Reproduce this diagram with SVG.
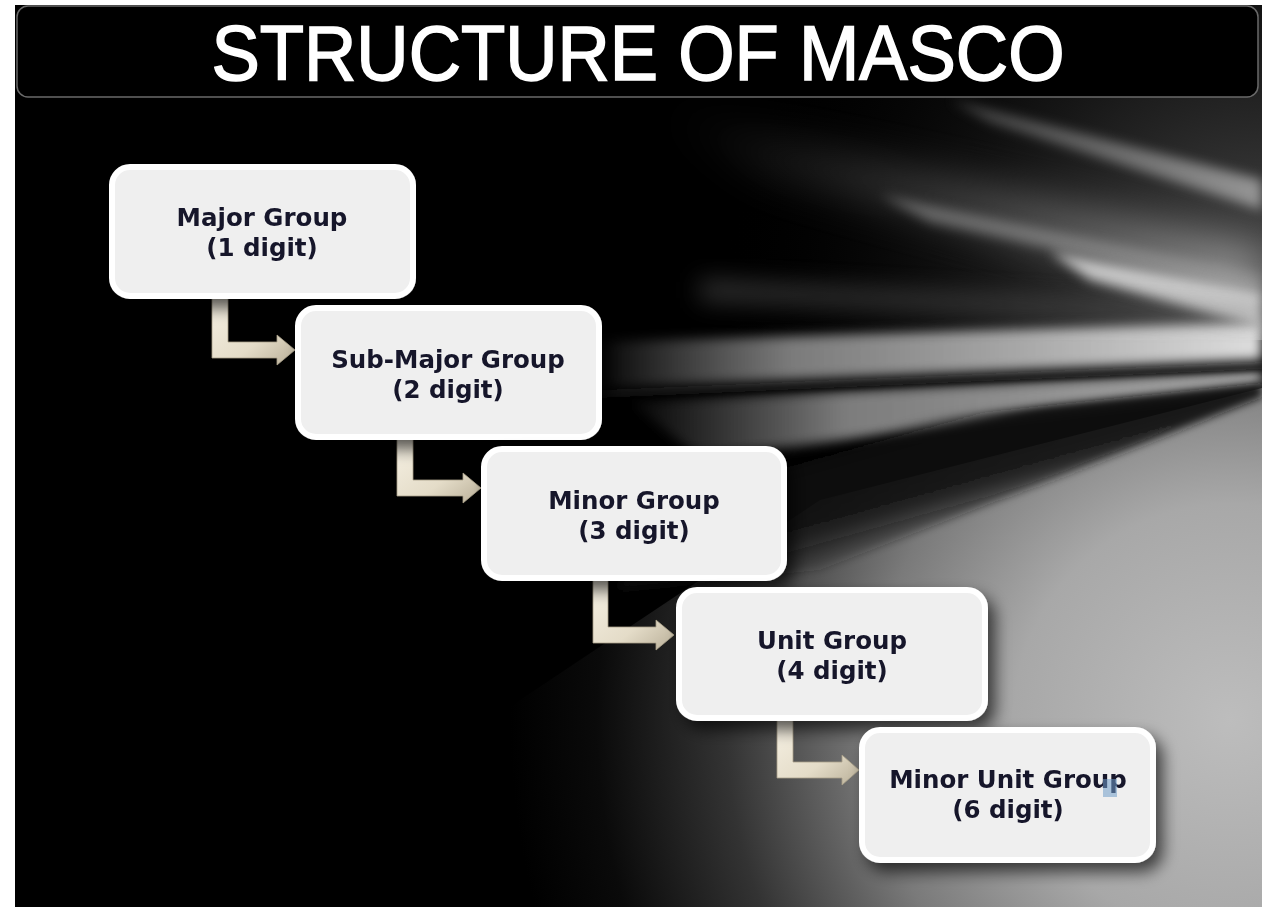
<svg xmlns="http://www.w3.org/2000/svg" width="1281" height="913" viewBox="0 0 1281 913">
<style>
.lbl{font-family:"DejaVu Sans","Liberation Sans",sans-serif;font-weight:bold;font-size:24.5px;fill:#14142a;text-anchor:middle}
.box{fill:#efefef;stroke:#ffffff;stroke-width:6}
.arr{fill:url(#arrG);stroke:#a89f88;stroke-width:0.8}
</style>
<defs>
<filter id="b20" x="-50%" y="-50%" width="200%" height="200%"><feGaussianBlur stdDeviation="20"/></filter>
<filter id="b12" x="-50%" y="-50%" width="200%" height="200%"><feGaussianBlur stdDeviation="12"/></filter>
<filter id="b6" x="-50%" y="-50%" width="200%" height="200%"><feGaussianBlur stdDeviation="6"/></filter>
<filter id="b4" x="-50%" y="-50%" width="200%" height="200%"><feGaussianBlur stdDeviation="4"/></filter>
<filter id="b3" x="-50%" y="-50%" width="200%" height="200%"><feGaussianBlur stdDeviation="3"/></filter>
<filter id="shadow" x="-20%" y="-20%" width="150%" height="160%"><feGaussianBlur in="SourceAlpha" stdDeviation="8"/><feOffset dx="7" dy="9"/><feComponentTransfer><feFuncA type="linear" slope="0.65"/></feComponentTransfer><feMerge><feMergeNode/><feMergeNode in="SourceGraphic"/></feMerge></filter>
<linearGradient id="arrG" x1="0" y1="0" x2="1" y2="1"><stop offset="0" stop-color="#f6f1e4"/><stop offset="0.6" stop-color="#e4dcc8"/><stop offset="1" stop-color="#b9af98"/></linearGradient>
<radialGradient id="floorG" gradientUnits="userSpaceOnUse" cx="1230" cy="720" r="720"><stop offset="0" stop-color="#bdbdbd"/><stop offset="0.3" stop-color="#a8a8a8"/><stop offset="0.5" stop-color="#7a7a7a"/><stop offset="0.7" stop-color="#333333"/><stop offset="0.88" stop-color="#0a0a0a"/><stop offset="1" stop-color="#000000"/></radialGradient>
<radialGradient id="fanG" gradientUnits="userSpaceOnUse" cx="1262" cy="310" r="540"><stop offset="0" stop-color="#6a6a6a" stop-opacity="0.8"/><stop offset="0.45" stop-color="#3a3a3a" stop-opacity="0.5"/><stop offset="1" stop-color="#000" stop-opacity="0"/></radialGradient>
<linearGradient id="bandG" gradientUnits="userSpaceOnUse" x1="590" y1="0" x2="1262" y2="0"><stop offset="0" stop-color="#aaaaaa" stop-opacity="0"/><stop offset="0.3" stop-color="#9a9a9a" stop-opacity="0.8"/><stop offset="1" stop-color="#dedede" stop-opacity="1"/></linearGradient>
<linearGradient id="band2G" gradientUnits="userSpaceOnUse" x1="620" y1="0" x2="1262" y2="0"><stop offset="0" stop-color="#777" stop-opacity="0"/><stop offset="0.35" stop-color="#8a8a8a" stop-opacity="0.9"/><stop offset="1" stop-color="#aaaaaa" stop-opacity="1"/></linearGradient>
<linearGradient id="upG" gradientUnits="userSpaceOnUse" x1="650" y1="0" x2="1262" y2="0"><stop offset="0" stop-color="#888" stop-opacity="0"/><stop offset="0.5" stop-color="#8c8c8c" stop-opacity="0.7"/><stop offset="1" stop-color="#d5d5d5" stop-opacity="1"/></linearGradient>
<linearGradient id="wedgeG" gradientUnits="userSpaceOnUse" x1="900" y1="425" x2="935" y2="550"><stop offset="0" stop-color="#111" stop-opacity="0"/><stop offset="0.18" stop-color="#0d0d0d" stop-opacity="0.95"/><stop offset="0.6" stop-color="#141414" stop-opacity="0.9"/><stop offset="1" stop-color="#222" stop-opacity="0"/></linearGradient>
<clipPath id="bgClip"><rect x="15" y="5" width="1247" height="902"/></clipPath>
</defs>
<rect width="1281" height="913" fill="#ffffff"/>
<g id="background" clip-path="url(#bgClip)">
<rect x="15" y="5" width="1247" height="902" fill="#000000"/>
<path d="M620 5 L1262 5 L1262 340 L620 340 Z" fill="url(#fanG)"/>
<path d="M400 907 L400 780 L820 500 L1262 388 L1262 907 Z" fill="url(#floorG)"/>
<path d="M630 402 L1262 370 L1262 388 L700 458 Z" fill="url(#band2G)" filter="url(#b6)"/>
<path d="M620 450 L1262 383 L1262 397 L820 570 L620 590 Z" fill="url(#wedgeG)" filter="url(#b4)"/>
<path d="M600 390 L1262 362 L1262 369 L600 398 Z" fill="#0a0a0a" filter="url(#b3)"/>
<path d="M595 342 L1262 322 L1262 360 L595 388 Z" fill="url(#bandG)" filter="url(#b6)"/>
<path d="M660 110 L1262 250 L1262 300 L760 175 Z" fill="url(#upG)" opacity="0.55" filter="url(#b20)"/>
<path d="M950 100 L1262 180 L1262 210 L990 122 Z" fill="url(#upG)" opacity="0.6" filter="url(#b6)"/>
<path d="M880 195 L1262 275 L1262 295 L930 222 Z" fill="#b5b5b5" opacity="0.45" filter="url(#b6)"/>
<path d="M1050 252 L1262 292 L1262 328 L1090 280 Z" fill="#dcdcdc" opacity="0.85" filter="url(#b6)"/>
<path d="M700 280 L1262 312 L1262 322 L700 300 Z" fill="#666" opacity="0.5" filter="url(#b12)"/>
</g>
<g id="title">
<rect x="17" y="6" width="1241" height="91" rx="11" fill="#000000" stroke="#6a6a6a" stroke-width="1.5"/>
<text x="638" y="80" font-family="'Liberation Sans',Arial,sans-serif" font-size="78" fill="#ffffff" stroke="#ffffff" stroke-width="1.6" text-anchor="middle" textLength="853" lengthAdjust="spacingAndGlyphs">STRUCTURE OF MASCO</text>
</g>
<g id="connectors">
<path class="arr" d="M212 298 H228 V342 H277 V335 L295 350 L277 365 V358 H212 Z"/>
<path class="arr" d="M397 439 H413 V480 H463 V473 L481 488 L463 503 V496 H397 Z"/>
<path class="arr" d="M593 580 H608 V627 H656 V620 L674 635 L656 650 V643 H593 Z"/>
<path class="arr" d="M777 720 H793 V762 H842 V755 L859 770 L842 785 V778 H777 Z"/>
</g>
<g id="node-major" filter="url(#shadow)">
<rect class="box" x="112" y="167" width="301" height="129" rx="18"/>
<text class="lbl" x="262" y="226">Major Group</text>
<text class="lbl" x="262" y="256">(1 digit)</text>
</g>
<g id="node-submajor" filter="url(#shadow)">
<rect class="box" x="298" y="308" width="301" height="129" rx="18"/>
<text class="lbl" x="448" y="368">Sub-Major Group</text>
<text class="lbl" x="448" y="398">(2 digit)</text>
</g>
<g id="node-minor" filter="url(#shadow)">
<rect class="box" x="484" y="449" width="300" height="129" rx="18"/>
<text class="lbl" x="634" y="509">Minor Group</text>
<text class="lbl" x="634" y="539">(3 digit)</text>
</g>
<g id="node-unit" filter="url(#shadow)">
<rect class="box" x="679" y="590" width="306" height="128" rx="18"/>
<text class="lbl" x="832" y="649">Unit Group</text>
<text class="lbl" x="832" y="679">(4 digit)</text>
</g>
<g id="node-minorunit" filter="url(#shadow)">
<rect class="box" x="862" y="730" width="291" height="130" rx="18"/>
<text class="lbl" x="1008" y="788">Minor Unit Group</text>
<text class="lbl" x="1008" y="818">(6 digit)</text>
<rect x="1103" y="779" width="14" height="18" fill="#6f9cc8" opacity="0.55"/>
</g>
</svg>
